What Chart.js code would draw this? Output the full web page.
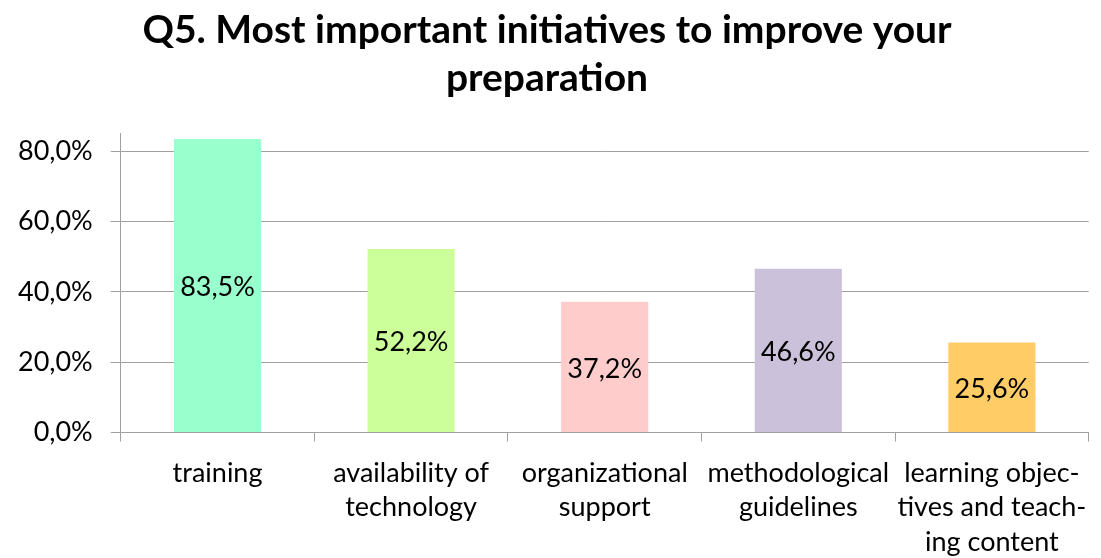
<!DOCTYPE html>
<html>
<head>
<meta charset="utf-8">
<script src="https://cdn.jsdelivr.net/npm/chart.js@4/dist/chart.umd.min.js"></script>
<style>
  html, body { margin: 0; padding: 0; background: #fff; }
  #wrap { width: 1101px; height: 558px; }
</style>
</head>
<body>
<div id="wrap"><canvas id="barChart"></canvas></div>
<script>
const categories = [
  "training",
  ["availability of", "technology"],
  ["organizational", "support"],
  ["methodological", "guidelines"],
  ["learning objec-", "tives and teach-", "ing content"]
];
const values = [83.5, 52.2, 37.2, 46.6, 25.6];
const barColors = ["#99ffcc", "#ccff99", "#ffcccc", "#ccc1da", "#ffcc66"];
const yTicks = [0, 20, 40, 60, 80];

const FONT = "Lato, 'Open Sans', sans-serif";

function pct(v) {
  return v.toFixed(1).replace(".", ",") + "%";
}

// labels in the middle of each bar
const barLabels = {
  id: "barLabels",
  afterDatasetsDraw(chart) {
    const ctx = chart.ctx;
    const meta = chart.getDatasetMeta(0);
    ctx.save();
    ctx.font = "27px " + FONT;
    ctx.fillStyle = "#000";
    ctx.textAlign = "center";
    ctx.textBaseline = "middle";
    meta.data.forEach(function(bar, i) {
      const mid = (bar.y + bar.base) / 2;
      ctx.fillText(pct(values[i]), bar.x, mid + 2);
    });
    ctx.restore();
  }
};

const ctx = document.getElementById("barChart").getContext("2d");
let chart = new Chart(ctx, {
  type: "bar",
  data: {
    labels: categories,
    datasets: [
      {
        data: values,
        backgroundColor: barColors,
        borderWidth: 0,
        categoryPercentage: 1,
        barPercentage: 0.45
      }
    ]
  },
  options: {
    responsive: true,
    maintainAspectRatio: false,
    animation: false,
    layout: {
      padding: { left: 0, right: 7, top: 0, bottom: -16 }
    },
    plugins: {
      legend: { display: false },
      tooltip: { enabled: false },
      title: {
        display: true,
        text: ["Q5. Most important initiatives to improve your", "preparation"],
        color: "#000",
        font: { family: FONT, size: 39, weight: "bold", lineHeight: 1.24 },
        padding: { top: 6, bottom: 31 }
      }
    },
    scales: {
      x: {
        grid: {
          offset: true,
          drawOnChartArea: false,
          drawTicks: true,
          tickLength: 9,
          color: "#a0a0a0"
        },
        border: { color: "#a0a0a0", width: 1 },
        ticks: {
          color: "#000",
          font: { family: FONT, size: 27, lineHeight: 1.29 },
          padding: 14,
          maxRotation: 0,
          autoSkip: false
        }
      },
      y: {
        min: 0,
        max: 85,
        afterBuildTicks(scale) {
          scale.ticks = yTicks.map(v => ({ value: v }));
        },
        grid: {
          color: "#a0a0a0",
          tickLength: 10
        },
        border: { color: "#a0a0a0", width: 1 },
        ticks: {
          color: "#000",
          font: { family: FONT, size: 27 },
          padding: 18,
          callback: function(v) { return pct(v); }
        }
      }
    }
  },
  plugins: [barLabels]
});
</script>
</body>
</html>
